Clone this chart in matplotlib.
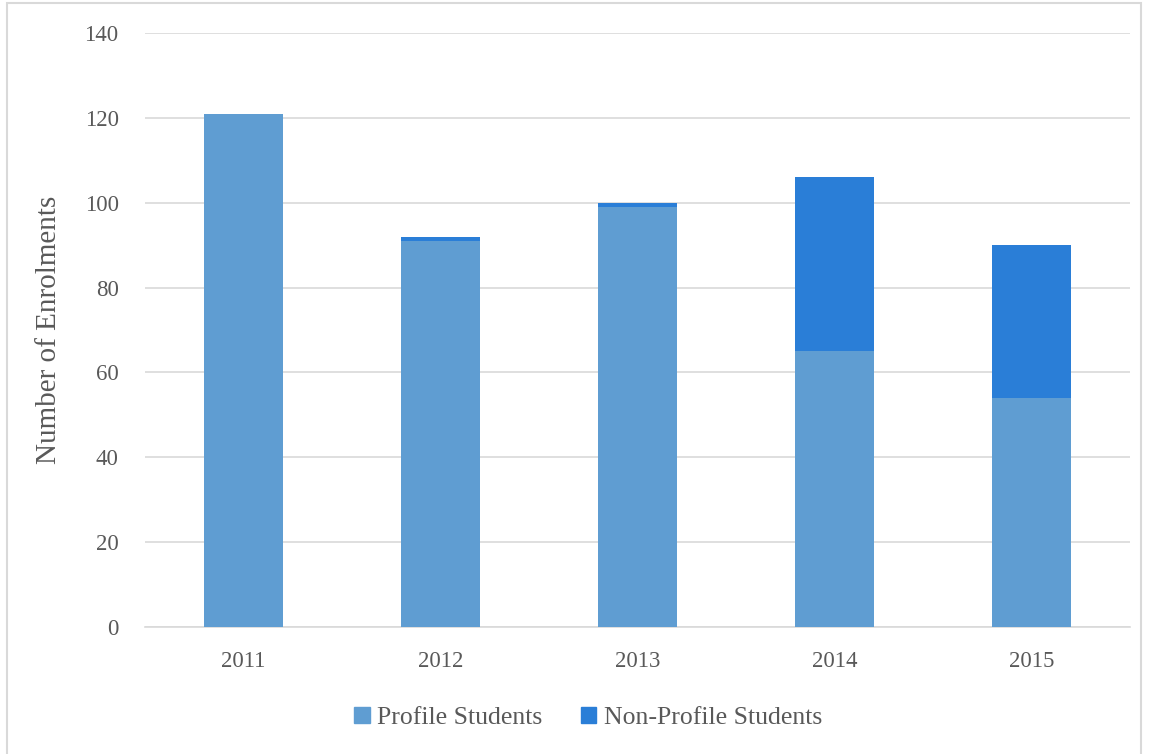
import matplotlib.pyplot as plt
from matplotlib.patches import Rectangle, Patch

years = ['2011', '2012', '2013', '2014', '2015']
profile = [121, 91, 99, 65, 54]
non_profile = [0, 1, 1, 41, 36]

profile_color = '#5F9DD2'
non_profile_color = '#2A7ED7'
text_color = '#595959'
grid_color = '#D9D9D9'

plt.rcParams['font.family'] = ['Liberation Serif', 'DejaVu Serif']

fig = plt.figure(figsize=(11.49, 7.54), dpi=100)
ax = fig.add_axes([0.1262, 0.1684, 0.8573, 0.7878])

x = range(len(years))
ax.bar(x, profile, width=0.4, color=profile_color, zorder=3)
ax.bar(x, non_profile, width=0.4, bottom=profile, color=non_profile_color, zorder=3)

ax.set_xlim(-0.5, len(years) - 0.5)
ax.set_ylim(0, 140)
ax.set_yticks(range(0, 141, 20))
ax.set_xticks(list(x))
ax.set_xticklabels(years)
ax.yaxis.grid(True, color=grid_color, linewidth=1.2, zorder=0)
ax.tick_params(length=0, labelsize=16.5, colors=text_color)
ax.tick_params(axis='x', pad=17)
ax.tick_params(axis='y', pad=19)
for side in ['top', 'right', 'left']:
    ax.spines[side].set_visible(False)
ax.spines['bottom'].set_color(grid_color)
ax.spines['bottom'].set_linewidth(1.2)

ax.set_ylabel('Number of Enrolments', fontsize=21, color=text_color, labelpad=16)

handles = [Patch(color=profile_color, label='Profile Students'),
           Patch(color=non_profile_color, label='Non-Profile Students')]
fig.legend(handles=handles, loc='center', bbox_to_anchor=(0.512, 0.048),
           ncol=2, frameon=False, fontsize=18.5, labelcolor=text_color,
           handlelength=0.6, handleheight=0.6, handletextpad=0.3,
           columnspacing=1.5)

# light frame round the whole chart
fig.patches.append(Rectangle((0.006, -0.01), 0.987, 1.006, transform=fig.transFigure,
                             fill=False, edgecolor='#D9D9D9', linewidth=1.5))

fig.savefig('out.png', dpi=100)
